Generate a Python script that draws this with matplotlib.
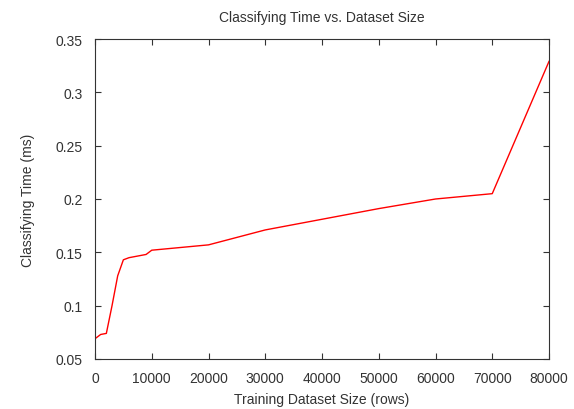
import matplotlib
matplotlib.use('Agg')
import matplotlib.pyplot as plt

# training set size (rows) and classifying time (ms)
rows = [0, 1000, 2000, 3000, 4000, 5000, 6000, 7000, 8000, 9000, 10000,
        20000, 30000, 40000, 50000, 60000, 70000, 80000]
times = [0.069, 0.073, 0.074, 0.100, 0.128, 0.143, 0.145, 0.146, 0.147, 0.148, 0.152,
         0.157, 0.171, 0.181, 0.191, 0.200, 0.205, 0.329]

xticks = [0, 10000, 20000, 30000, 40000, 50000, 60000, 70000, 80000]
yticks = [0.05, 0.1, 0.15, 0.2, 0.25, 0.3, 0.35]
ytick_labels = ['0.05', '0.1', '0.15', '0.2', '0.25', '0.3', '0.35']

plt.rcParams['font.family'] = ['Liberation Sans', 'DejaVu Sans']
plt.rcParams['font.size'] = 10

fig = plt.figure(figsize=(5.74, 4.10), dpi=100)
ax = fig.add_axes([95 / 574, 1 - 360 / 410, 454 / 574, 320 / 410])

ax.plot(rows, times, color='#ff0000', linewidth=1.0)

ax.set_xlim(0, 80000)
ax.set_ylim(0.05, 0.35)
ax.set_xticks(xticks)
ax.set_xticklabels([str(t) for t in xticks])
ax.set_yticks(yticks)
ax.set_yticklabels(ytick_labels)
ax.tick_params(direction='in', top=True, right=True, length=4, width=0.8,
               color='#333333', labelcolor='#333333')
ax.tick_params(axis='x', pad=8.5)
ax.tick_params(axis='y', pad=9)

for s in ax.spines.values():
    s.set_color('#333333')
    s.set_linewidth(0.8)

ax.set_title('Classifying Time vs. Dataset Size', color='#333333', fontsize=10, pad=13)
ax.set_xlabel('Training Dataset Size (rows)', color='#333333', labelpad=5.5)
ax.set_ylabel('Classifying Time (ms)', color='#333333', labelpad=15)

fig.savefig('out.png', dpi=100)
